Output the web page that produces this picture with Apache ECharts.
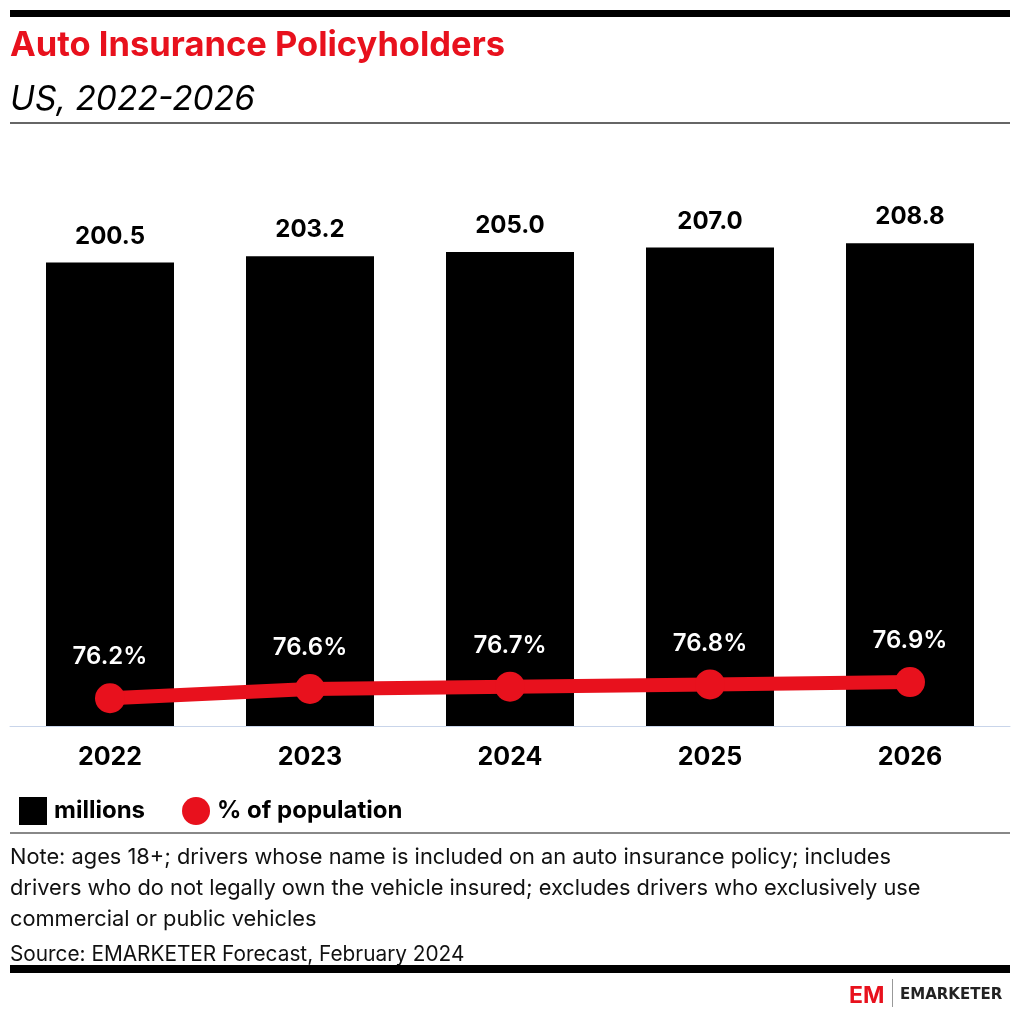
<!DOCTYPE html>
<html>
<head>
<meta charset="utf-8">
<script src="https://cdn.jsdelivr.net/npm/echarts@6/dist/echarts.min.js"></script>
<style>
html,body{margin:0;padding:0;background:#fff;}
#chart{width:1020px;height:1016px;}
</style>
</head>
<body>
<div id="chart"></div>
<script>
const categories = ['2022', '2023', '2024', '2025', '2026'];
const millions = [200.5, 203.2, 205.0, 207.0, 208.8];
const pctPopulation = [76.2, 76.6, 76.7, 76.8, 76.9];
const titleText = 'Auto Insurance Policyholders';
const subtitleText = 'US, 2022-2026';
const noteLines = [
  'Note: ages 18+; drivers whose name is included on an auto insurance policy; includes',
  'drivers who do not legally own the vehicle insured; excludes drivers who exclusively use',
  'commercial or public vehicles'
];
const sourceText = 'Source: EMARKETER Forecast, February 2024';

const FONT = 'Inter, "Noto Sans", sans-serif';
const RED = '#e8111d';

const chart = echarts.init(document.getElementById('chart'));
chart.setOption({
  animation: false,
  backgroundColor: '#fff',
  textStyle: { fontFamily: FONT },
  grid: { left: 10, right: 10, top: 148, bottom: 290, containLabel: false },
  xAxis: {
    type: 'category',
    data: categories,
    boundaryGap: true,
    axisLine: { show: true, lineStyle: { color: '#c9d5ea', width: 1 } },
    axisTick: { show: false },
    axisLabel: { color: '#000', fontSize: 25, fontWeight: 'bold', margin: 19, fontFamily: FONT }
  },
  yAxis: [
    { type: 'value', min: 0, max: 250, show: false, splitLine: { show: false } },
    { type: 'value', min: 75, max: 100, show: false, splitLine: { show: false } }
  ],
  legend: {
    left: 14, top: 792,
    itemWidth: 28, itemHeight: 28, itemGap: 37,
    textStyle: { color: '#000', fontSize: 24, fontWeight: 'bold', fontFamily: FONT, padding: [0, 0, 0, 2] },
    data: [
      { name: 'millions', icon: 'rect' },
      { name: '% of population', icon: 'circle' }
    ]
  },
  series: [
    {
      name: 'millions',
      type: 'bar',
      data: millions,
      barWidth: '64%',
      itemStyle: { color: '#000' },
      label: {
        show: true, position: 'top', distance: 14,
        color: '#000', fontSize: 24, fontWeight: 'bold', fontFamily: FONT,
        formatter: p => p.value.toFixed(1)
      }
    },
    {
      name: '% of population',
      type: 'line',
      yAxisIndex: 1,
      data: pctPopulation,
      symbol: 'circle',
      symbolSize: 30,
      lineStyle: { color: RED, width: 14 },
      itemStyle: { color: RED },
      label: {
        show: true, position: 'top', distance: 14,
        color: '#fff', fontSize: 24, fontWeight: 600, fontFamily: FONT,
        formatter: p => p.value.toFixed(1) + '%'
      },
      z: 5
    }
  ],
  graphic: [
    { type: 'rect', shape: { x: 10, y: 10, width: 1000, height: 7 }, style: { fill: '#000' } },
    { type: 'text', x: 10, y: 28, style: { text: titleText, fill: RED, font: 'bold 34.5px ' + FONT } },
    { type: 'text', x: 10, y: 83, style: { text: subtitleText, fill: '#000', font: 'italic 33.5px ' + FONT } },
    { type: 'rect', shape: { x: 10, y: 122, width: 1000, height: 2 }, style: { fill: '#666' } },
    { type: 'rect', shape: { x: 10, y: 832, width: 1000, height: 2 }, style: { fill: '#888' } },
    { type: 'text', x: 10, y: 842, style: { text: noteLines.join('\n'), fill: '#111', font: '21.8px ' + FONT, lineHeight: 31 } },
    { type: 'text', x: 10, y: 944, style: { text: sourceText, fill: '#111', font: '20.8px ' + FONT } },
    { type: 'rect', shape: { x: 10, y: 965, width: 1000, height: 8 }, style: { fill: '#000' } },
    { type: 'text', x: 849, y: 985, style: { text: 'EM', fill: RED, font: 'bold 23px ' + FONT } },
    { type: 'rect', shape: { x: 892, y: 979, width: 1, height: 28 }, style: { fill: '#999' } },
    { type: 'text', x: 900, y: 988, style: { text: 'EMARKETER', fill: '#222', font: 'bold 15px "DejaVu Sans", sans-serif' } }
  ]
});
</script>
</body>
</html>
